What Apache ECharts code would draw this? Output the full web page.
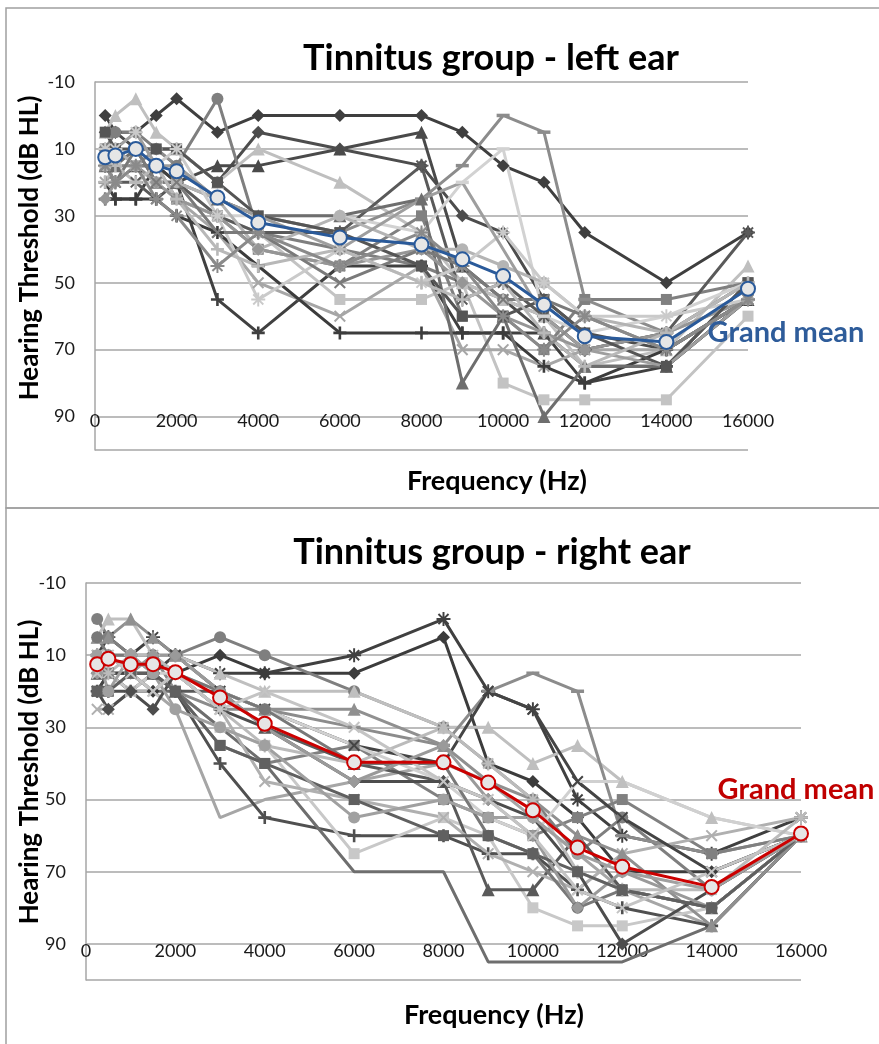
<!DOCTYPE html>
<html>
<head>
<meta charset="utf-8">
<script src="https://cdn.jsdelivr.net/npm/echarts@6/dist/echarts.min.js"></script>
<style>
html,body{margin:0;padding:0;background:#fff;}
#chart{width:879px;height:1044px;}
</style>
</head>
<body>
<div id="chart"></div>
<script>
// ---------- DATA ----------
const freqs = [250, 500, 1000, 1500, 2000, 3000, 4000, 6000, 8000, 9000, 10000, 11000, 12000, 14000, 16000];

// Left ear, individual subjects (dB HL at each frequency)
const leftS01 = [0, 5, 5, 0, -5, 5, 0, 0, 0, 5, 15, 20, 35, 50, 35];
const leftS02 = [5, 5, 10, 10, 10, 20, 5, 10, 15, 30, 35, 55, 65, 70, 55];
const leftS03 = [10, 10, 15, 15, 20, 15, 15, 10, 5, 45, 55, 65, 75, 75, 55];
const leftS04 = [10, 5, 5, 10, 15, -5, 35, 40, 45, 50, 55, 60, 70, 65, 50];
const leftS05 = [5, 0, -5, 5, 10, 20, 10, 20, 35, 50, 55, 60, 75, 70, 45];
const leftS06 = [25, 25, 25, 15, 20, 55, 65, 45, 45, 65, 65, 65, 80, 75, 55];
const leftS07 = [10, 10, 15, 15, 25, 30, 40, 45, 30, 60, 60, 70, 55, 55, 50];
const leftS08 = [15, 15, 15, 20, 20, 30, 35, 55, 55, 50, 80, 85, 85, 85, 60];
const leftS09 = [15, 20, 20, 25, 20, 30, 35, 35, 15, 55, 50, 60, 70, 65, 35];
const leftS10 = [20, 20, 15, 20, 25, 35, 50, 60, 45, 70, 70, 75, 70, 70, 55];
const leftS11 = [10, 15, 15, 10, 15, 25, 30, 35, 25, 15, 0, 5, 55, 65, 50];
const leftS12 = [20, 15, 20, 20, 25, 30, 30, 30, 35, 20, 10, 60, 65, 60, 50];
const leftS13 = [20, 25, 25, 25, 30, 35, 45, 65, 65, 65, 65, 75, 80, 70, 55];
const leftS14 = [15, 15, 10, 20, 20, 25, 30, 30, 25, 80, 60, 90, 75, 75, 50];
const leftS15 = [15, 10, 15, 20, 20, 25, 40, 30, 40, 40, 45, 50, 60, 65, 55];
const leftS16 = [25, 20, 15, 20, 25, 30, 40, 45, 40, 50, 60, 65, 70, 65, 55];
const leftS17 = [5, 10, 10, 10, 10, 20, 30, 35, 45, 60, 60, 55, 65, 75, 50];
const leftS18 = [10, 10, 5, 15, 10, 30, 55, 40, 50, 45, 35, 50, 60, 60, 55];
const leftS19 = [15, 20, 10, 20, 20, 35, 35, 50, 40, 45, 55, 55, 60, 70, 55];
const leftS20 = [10, 10, 5, 15, 15, 25, 30, 40, 25, 20, 40, 60, 70, 75, 55];
const leftS21 = [20, 15, 20, 15, 25, 40, 45, 40, 50, 55, 50, 65, 75, 65, 50];
const leftS22 = [15, 20, 15, 25, 30, 45, 35, 45, 35, 45, 60, 70, 60, 70, 55];
const leftMean = [12.5, 12, 10, 15, 16.7, 24.5, 32, 36.5, 38.6, 43, 48, 56.6, 66, 67.7, 51.8];

// Right ear, individual subjects
const rightS01 = [10, 5, 10, 5, 10, 15, 15, 10, 0, 20, 25, 50, 60, 65, 55];
const rightS02 = [15, 15, 20, 20, 15, 10, 15, 15, 5, 40, 45, 55, 70, 70, 60];
const rightS03 = [0, 5, 10, 10, 10, 5, 10, 20, 30, 40, 50, 65, 55, 75, 60];
const rightS04 = [5, 0, 0, 10, 10, 15, 20, 20, 30, 30, 40, 35, 45, 55, 60];
const rightS05 = [10, 10, 15, 10, 20, 25, 25, 30, 35, 20, 15, 20, 60, 65, 60];
const rightS06 = [20, 15, 15, 20, 25, 55, 50, 45, 40, 45, 55, 65, 75, 85, 60];
const rightS07 = [20, 20, 20, 15, 20, 40, 55, 60, 60, 65, 65, 75, 80, 85, 60];
const rightS08 = [15, 15, 20, 15, 20, 30, 35, 65, 55, 60, 80, 85, 85, 80, 60];
const rightS09 = [20, 15, 15, 15, 20, 35, 40, 35, 50, 55, 60, 55, 50, 65, 60];
const rightS10 = [15, 10, 10, 15, 20, 20, 30, 40, 45, 75, 75, 60, 75, 80, 60];
const rightS11 = [15, 15, 15, 20, 20, 30, 40, 70, 70, 95, 95, 95, 95, 85, 60];
const rightS12 = [25, 25, 20, 20, 15, 25, 45, 50, 55, 65, 70, 75, 65, 60, 55];
const rightS13 = [20, 15, 15, 15, 10, 20, 25, 35, 40, 20, 25, 45, 55, 70, 60];
const rightS14 = [5, 5, 0, 5, 10, 20, 25, 25, 35, 45, 50, 60, 65, 85, 60];
const rightS15 = [10, 10, 10, 15, 15, 20, 25, 35, 45, 55, 60, 45, 45, 55, 60];
const rightS16 = [20, 25, 20, 25, 15, 25, 30, 45, 45, 50, 55, 70, 90, 75, 60];
const rightS17 = [5, 10, 10, 10, 15, 20, 25, 40, 40, 60, 65, 80, 75, 80, 60];
const rightS18 = [10, 15, 10, 10, 15, 25, 35, 40, 30, 40, 50, 70, 75, 75, 55];
const rightS19 = [15, 10, 15, 10, 10, 20, 30, 45, 35, 50, 60, 80, 70, 80, 60];
const rightS20 = [20, 20, 15, 15, 20, 35, 40, 50, 60, 60, 65, 70, 75, 80, 60];
const rightS21 = [10, 20, 10, 15, 25, 30, 35, 55, 50, 55, 55, 65, 70, 75, 60];
const rightS22 = [15, 10, 15, 20, 15, 25, 20, 30, 45, 50, 60, 75, 80, 70, 60];
const rightMean = [12.5, 11, 12.5, 12.5, 14.7, 21.7, 29, 39.7, 39.7, 45.3, 53, 63.3, 68.6, 74.2, 59.4];

const xTicks = [0, 2000, 4000, 6000, 8000, 10000, 12000, 14000, 16000];
const yTicks = [-10, 10, 30, 50, 70, 90];

const leftSubjects = [leftS01, leftS02, leftS03, leftS04, leftS05, leftS06, leftS07, leftS08, leftS09, leftS10, leftS11,
  leftS12, leftS13, leftS14, leftS15, leftS16, leftS17, leftS18, leftS19, leftS20, leftS21, leftS22];
const rightSubjects = [rightS01, rightS02, rightS03, rightS04, rightS05, rightS06, rightS07, rightS08, rightS09, rightS10, rightS11,
  rightS12, rightS13, rightS14, rightS15, rightS16, rightS17, rightS18, rightS19, rightS20, rightS21, rightS22];

// ---------- STYLES ----------
const SYM = {
  diamond: 'diamond', square: 'rect', triangle: 'triangle', circle: 'circle',
  plus: 'path://M4,0H6V4H10V6H6V10H4V6H0V4H4Z',
  x: 'path://M1.2,0L5,3.8L8.8,0L10,1.2L6.2,5L10,8.8L8.8,10L5,6.2L1.2,10L0,8.8L3.8,5L0,1.2Z',
  star: 'path://M4.3,0H5.7V3.3L8.1,0.9L9.1,1.9L6.7,4.3H10V5.7H6.7L9.1,8.1L8.1,9.1L5.7,6.7V10H4.3V6.7L1.9,9.1L0.9,8.1L3.3,5.7H0V4.3H3.3L0.9,1.9L1.9,0.9L4.3,3.3Z',
  dash: 'path://M0,0H10V2H0Z',
  none: 'none'
};
const SIZE = {diamond: 13, square: 11, triangle: 13, circle: 12, plus: 13, x: 12, star: 14, dash: [13, 3.5], none: 0};

const leftStyle = [
  ['#3f3f3f', 'diamond'], ['#4d4d4d', 'diamond'], ['#4a4a4a', 'triangle'], ['#7f7f7f', 'circle'],
  ['#bfbfbf', 'triangle'], ['#404040', 'plus'], ['#808080', 'square'], ['#c3c3c3', 'square'],
  ['#5a5a5a', 'star'], ['#a6a6a6', 'x'], ['#8c8c8c', 'dash'], ['#d2d2d2', 'dash'],
  ['#3c3c3c', 'plus'], ['#6e6e6e', 'triangle'], ['#b4b4b4', 'circle'], ['#969696', 'diamond'],
  ['#555555', 'square'], ['#cacaca', 'star'], ['#7a7a7a', 'x'], ['#9e9e9e', 'none'],
  ['#b8b8b8', 'plus'], ['#8a8a8a', 'star']
];
const rightStyle = [
  ['#404040', 'star'], ['#3c3c3c', 'diamond'], ['#7f7f7f', 'circle'], ['#bfbfbf', 'triangle'],
  ['#8c8c8c', 'dash'], ['#a6a6a6', 'none'], ['#505050', 'plus'], ['#c8c8c8', 'square'],
  ['#808080', 'square'], ['#5a5a5a', 'triangle'], ['#6e6e6e', 'none'], ['#b0b0b0', 'x'],
  ['#444444', 'x'], ['#909090', 'triangle'], ['#d0d0d0', 'none'], ['#4d4d4d', 'diamond'],
  ['#787878', 'circle'], ['#bbbbbb', 'star'], ['#9a9a9a', 'diamond'], ['#606060', 'square'],
  ['#a0a0a0', 'circle'], ['#c4c4c4', 'x']
];

const FONT = 'Lato, "Open Sans", sans-serif';
const GRID_COL = '#a6a6a6';

function subjectSeries(vals, st, g) {
  return {
    type: 'line', xAxisIndex: g, yAxisIndex: g, silent: true, z: 2,
    data: freqs.map((f, i) => [f, vals[i]]),
    symbol: SYM[st[1]], symbolSize: SIZE[st[1]], showSymbol: st[1] !== 'none',
    lineStyle: {color: st[0], width: 3},
    itemStyle: {color: st[0]}
  };
}
function meanSeries(vals, col, g) {
  return {
    type: 'line', xAxisIndex: g, yAxisIndex: g, silent: true, z: 10,
    data: freqs.map((f, i) => [f, vals[i]]),
    symbol: 'circle', symbolSize: 14,
    lineStyle: {color: col, width: 3},
    itemStyle: {color: '#e6e6e6', borderColor: col, borderWidth: 2}
  };
}

const grids = [
  {left: 95, top: 82, width: 653, height: 368},
  {left: 86, top: 583, width: 715, height: 397}
];
function xAxisFor(g, offset, margin) {
  return {
    type: 'value', gridIndex: g, min: 0, max: 16000, interval: 2000, position: 'bottom', offset: offset,
    axisLine: {show: false}, axisTick: {show: false}, splitLine: {show: false},
    axisLabel: {fontFamily: FONT, fontSize: 18, color: '#1a1a1a', margin: margin,
      formatter: v => (xTicks.indexOf(v) >= 0 ? String(v) : '')}
  };
}
function yAxisFor(g) {
  return {
    type: 'value', gridIndex: g, min: -10, max: 100, interval: 20, inverse: true,
    axisLine: {show: true, lineStyle: {color: GRID_COL, width: 1.5}},
    axisTick: {show: false},
    splitLine: {show: true, lineStyle: {color: GRID_COL, width: 1.5}},
    axisLabel: {fontFamily: FONT, fontSize: 18, color: '#1a1a1a', margin: 20,
      formatter: v => (yTicks.indexOf(v) >= 0 ? String(v) : '')}
  };
}

const series = [];
leftSubjects.forEach((s, i) => series.push(subjectSeries(s, leftStyle[i], 0)));
series.push(meanSeries(leftMean, '#2a5a9a', 0));
rightSubjects.forEach((s, i) => series.push(subjectSeries(s, rightStyle[i], 1)));
series.push(meanSeries(rightMean, '#cc0000', 1));

function txt(x, y, text, size, color, rot) {
  return {
    type: 'text', x: x, y: y, rotation: rot || 0, z: 100,
    style: {text: text, fontFamily: FONT, fontWeight: 'bold', fontSize: size, fill: color,
      align: 'center', verticalAlign: 'middle'}
  };
}

const option = {
  animation: false,
  backgroundColor: '#ffffff',
  grid: grids,
  xAxis: [xAxisFor(0, -33.5, -4), xAxisFor(1, -36, -2)],
  yAxis: [yAxisFor(0), yAxisFor(1)],
  series: series,
  graphic: [
    {type: 'rect', shape: {x: 6, y: 8, width: 900, height: 500}, style: {fill: 'none', stroke: '#a0a0a0', lineWidth: 1.5}, z: 0, silent: true},
    {type: 'rect', shape: {x: 6, y: 508, width: 900, height: 560}, style: {fill: 'none', stroke: '#a0a0a0', lineWidth: 1.5}, z: 0, silent: true},
    txt(491, 58, 'Tinnitus group - left ear', 36, '#000'),
    txt(492, 552, 'Tinnitus group - right ear', 36, '#000'),
    txt(30, 248, 'Hearing Threshold (dB HL)', 26, '#000', Math.PI / 2),
    txt(30, 772, 'Hearing Threshold (dB HL)', 26, '#000', Math.PI / 2),
    txt(497, 481, 'Frequency (Hz)', 27, '#000'),
    txt(494, 1015, 'Frequency (Hz)', 27, '#000'),
    txt(786, 333, 'Grand mean', 29, '#2e5c9a'),
    txt(796, 790, 'Grand mean', 29, '#c00000')
  ]
};

const chart = echarts.init(document.getElementById('chart'), null, {renderer: 'canvas'});
chart.setOption(option);
</script>
</body>
</html>
